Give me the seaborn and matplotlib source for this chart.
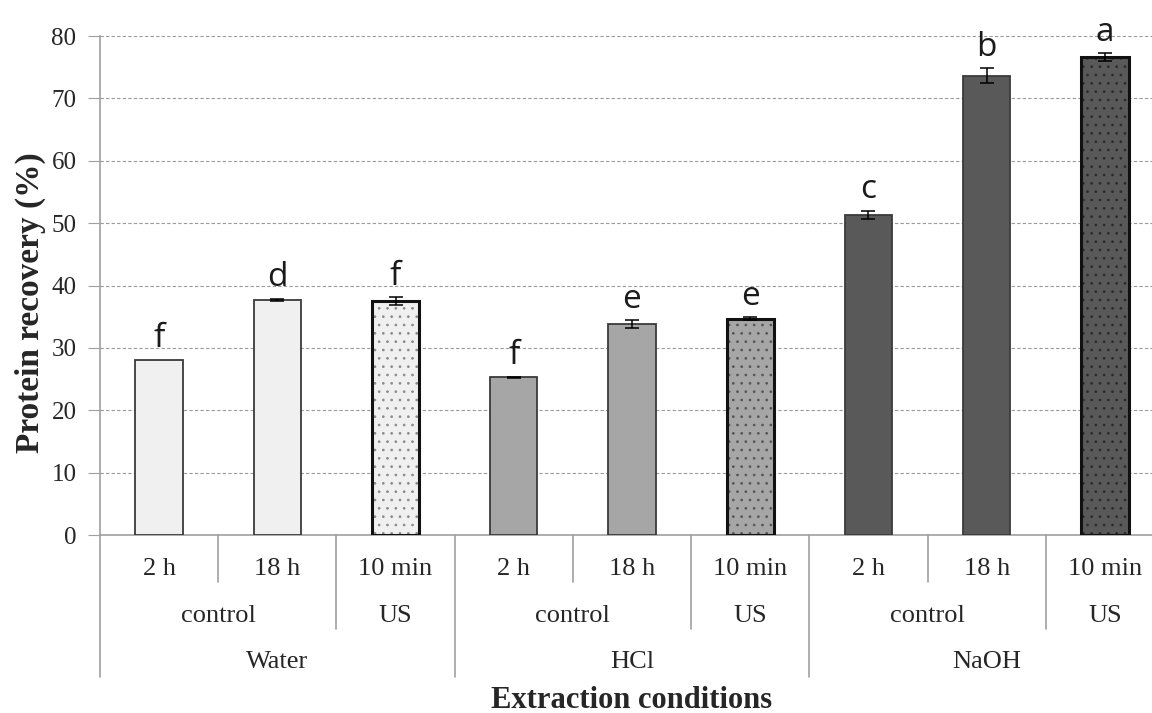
import pandas as pd
import numpy as np
import seaborn as sns
import matplotlib.pyplot as plt
import matplotlib.transforms as mtransforms
from matplotlib.patches import Rectangle

# data
solvents = ["Water", "Water", "Water", "HCl", "HCl", "HCl", "NaOH", "NaOH", "NaOH"]
treatments = ["control", "control", "US"] * 3
times = ["2 h", "18 h", "10 min"] * 3
recovery = [28.1, 37.7, 37.5, 25.3, 33.8, 34.7, 51.3, 73.6, 76.6]
errors = [0.0, 0.2, 0.6, 0.1, 0.6, 0.2, 0.7, 1.2, 0.6]
letters = ["f", "d", "f", "f", "e", "e", "c", "b", "a"]
bar_colors = ["#f0f0f0", "#f0f0f0", "#f0f0f0",
              "#a6a6a6", "#a6a6a6", "#a6a6a6",
              "#595959", "#595959", "#595959"]
dot_colors = ["#8a8a8a"] * 3 + ["#555555"] * 3 + ["#2a2a2a"] * 3

df = pd.DataFrame({"solvent": solvents, "treatment": treatments,
                   "time": times, "recovery": recovery})
df["key"] = df["solvent"] + " " + df["treatment"] + " " + df["time"]
order = list(df["key"])

sns.set_style("white")
plt.rcParams["font.family"] = ["Liberation Serif", "DejaVu Serif"]
plt.rcParams["hatch.linewidth"] = 0.7

fig = plt.figure(figsize=(11.52, 7.13), dpi=100)
ax = fig.add_axes([100 / 1152, 178 / 713, 1064 / 1152, 499 / 713])

sns.barplot(data=df, x="key", y="recovery", order=order, hue="key",
            palette=dict(zip(order, bar_colors)), legend=False,
            errorbar=None, width=0.4, ax=ax, zorder=3)

for patch, treat, dc in zip(list(ax.patches), treatments, dot_colors):
    if treat == "US":
        # dotted fill, then a heavy black outline on top
        patch.set_hatch("..")
        patch.set_edgecolor(dc)
        patch.set_linewidth(0)
        ax.add_patch(Rectangle(patch.get_xy(), patch.get_width(),
                               patch.get_height(), fill=False,
                               edgecolor="#111111", linewidth=2.2, zorder=3.5))
    else:
        patch.set_edgecolor("#3a3a3a")
        patch.set_linewidth(1.3)

# error bars only where an error was reported
xs = np.arange(len(order))
err = np.array(errors)
has_err = err > 0
ax.errorbar(xs[has_err], np.array(recovery)[has_err], yerr=err[has_err],
            fmt="none", ecolor="black", elinewidth=1.1, capsize=5,
            capthick=1.1, zorder=4)

for x, y, e, lt in zip(xs, recovery, errors, letters):
    ax.text(x, y + e + 2.0, lt, ha="center", va="baseline", fontsize=24,
            family=["Open Sans", "DejaVu Sans"], color="#1a1a1a")

ax.set_ylim(0, 80)
ax.set_xlim(-0.5, len(order) - 0.5)
ax.set_yticks(range(0, 81, 10))
ax.tick_params(axis="y", labelsize=18, length=9, color="#a0a0a0",
               direction="out", left=True, pad=8)
ax.yaxis.grid(True, linestyle=(0, (3, 2)), color="#9a9a9a", linewidth=0.8)
ax.set_axisbelow(True)
for side in ["top", "right"]:
    ax.spines[side].set_visible(False)
for side in ["left", "bottom"]:
    ax.spines[side].set_color("#a0a0a0")
    ax.spines[side].set_linewidth(1.2)

ax.set_ylabel("Protein recovery (%)", fontsize=24, fontweight="bold")
ax.yaxis.set_label_coords(-0.051, 0.465)
ax.set_xlabel("")
ax.set_xticks([])

# multi-level category axis
trans = mtransforms.blended_transform_factory(ax.transData, ax.transAxes)
line_kw = dict(color="#a0a0a0", linewidth=1.2, transform=trans, clip_on=False)
text_kw = dict(ha="center", va="baseline", fontsize=19, transform=trans)

for i, t in enumerate(times):
    ax.text(i, -0.080, t, **text_kw)

for g in range(3):
    s = g * 3
    ax.text(s + 0.5, -0.174, "control", **text_kw)
    ax.text(s + 2, -0.174, "US", **text_kw)
    ax.text(s + 1, -0.267, solvents[s], **text_kw)
    ax.plot([s - 0.5, s - 0.5], [0, -0.285], **line_kw)
    ax.plot([s + 0.5, s + 0.5], [0, -0.094], **line_kw)
    ax.plot([s + 1.5, s + 1.5], [0, -0.188], **line_kw)
ax.plot([8.5, 8.5], [0, -0.285], **line_kw)

ax.text(4, -0.347, "Extraction conditions", ha="center", va="baseline",
        fontsize=22, fontweight="bold", transform=trans)

fig.savefig("out.png", dpi=100)
